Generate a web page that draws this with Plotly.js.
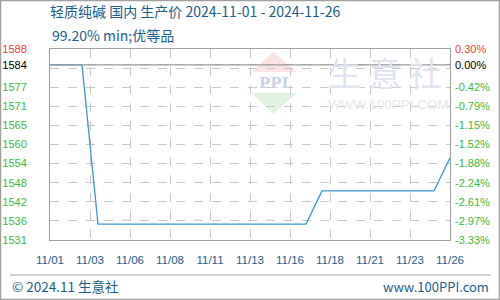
<!DOCTYPE html>
<html>
<head>
<meta charset="utf-8">
<script src="https://cdn.plot.ly/plotly-3.0.1.min.js"></script>
<style>html,body{margin:0;padding:0;background:#fff;}#chart{width:500px;height:300px;}</style>
</head>
<body>
<div id="chart"></div>
<script>
// ---- data ----
const dates = ['2024-11-01','2024-11-02','2024-11-03','2024-11-04','2024-11-05','2024-11-06','2024-11-07',
  '2024-11-08','2024-11-09','2024-11-10','2024-11-11','2024-11-12','2024-11-13','2024-11-14','2024-11-15',
  '2024-11-16','2024-11-17','2024-11-18','2024-11-19','2024-11-20','2024-11-21','2024-11-22','2024-11-23',
  '2024-11-24','2024-11-25','2024-11-26'];
const prices = [1584,1584,1584,1536,1536,1536,1536,1536,1536,1536,1536,1536,1536,1536,1536,1536,1536,
  1546,1546,1546,1546,1546,1546,1546,1546,1556];
const basePrice = 1584;
const yMin = 1531.2, yMax = 1588.8;
const xTickLabels = ['11/01','11/03','11/06','11/08','11/11','11/13','11/16','11/18','11/21','11/23','11/26'];
const leftGridLabels = ['1531','1536','1542','1548','1554','1560','1565','1571','1577','',''];
const rightGridLabels = ['-3.33%','-2.97%','-2.61%','-2.24%','-1.88%','-1.52%','-1.15%','-0.79%','-0.42%','',''];
const leftTopLabel = '1588', leftBaseLabel = '1584';
const rightTopLabel = '0.30%', rightBaseLabel = '0.00%';
const titleText = '轻质纯碱 国内 生产价 2024-11-01 - 2024-11-26';
const subtitleText = '99.20% min;优等品';

// ---- layout helpers ----
const W = 500, H = 300, M = {l:50, r:50, t:49, b:60};
const PW = W - M.l - M.r, PH = H - M.t - M.b;
const px = v => (v - M.l) / PW;
const py = v => (H - M.b - v) / PH;

const RED = '#f03a3a', GREEN = '#3cb93c', BLUE = '#1b5e8c';
const col = (c, t) => t ? '<span style="color:' + c + '">' + t + '</span>' : '';

// grid tick values (11 evenly spaced) plus base line
const nGrid = 10;
const gridVals = [];
for (let i = 0; i <= nGrid; i++) gridVals.push(yMin + (yMax - yMin) * i / nGrid);
const yTickVals = gridVals.slice(0, nGrid).concat([basePrice, yMax]);
const leftText = leftGridLabels.slice(0, nGrid).map(t => col(GREEN, t)).concat([col('#000', leftBaseLabel), col(RED, leftTopLabel)]);
const rightText = rightGridLabels.slice(0, nGrid).map(t => col(GREEN, t)).concat([col('#000', rightBaseLabel), col(RED, rightTopLabel)]);

// x ticks every 2.5 days
const day = 86400000;
const x0 = Date.UTC(2024, 10, 1), x1 = Date.UTC(2024, 10, 26);
const xTickVals = xTickLabels.map((_, k) => x0 + k * 2.5 * day);

const trace = {
  x: dates, y: prices, type: 'scatter', mode: 'lines',
  line: {color: '#3a96d4', width: 1.3}, hoverinfo: 'skip'
};
const trace2 = {x: dates, y: prices, yaxis: 'y2', mode: 'none', type: 'scatter', hoverinfo: 'skip'};

const tickFont = {family: 'Liberation Sans, Arial, sans-serif', size: 11, color: '#000'};
const layout = {
  width: W, height: H, margin: M,
  paper_bgcolor: '#fff', plot_bgcolor: '#fff',
  showlegend: false, hovermode: false,
  title: {text: titleText, x: M.l / W, xanchor: 'left', xref: 'container',
          y: 1 - 7 / H, yanchor: 'top', yref: 'container',
          font: {family: 'Noto Sans CJK SC, sans-serif', size: 14, color: BLUE}},
  xaxis: {type: 'date', range: [x0, x1], tickvals: xTickVals, ticktext: xTickLabels,
          showgrid: true, gridcolor: '#c8c8c8', griddash: 'dash', gridwidth: 1,
          showline: true, linecolor: '#a0a0a0', linewidth: 1, mirror: true,
          zeroline: false, ticks: '', ticklabelstandoff: 9,
          tickfont: Object.assign({}, tickFont, {color: BLUE, size: 11.5})},
  yaxis: {range: [yMin, yMax], tickvals: yTickVals, ticktext: leftText,
          showgrid: false, zeroline: false, showline: true, linecolor: '#a0a0a0',
          linewidth: 1, mirror: true, ticks: '', ticklabelstandoff: 20, tickfont: tickFont},
  yaxis2: {range: [yMin, yMax], tickvals: yTickVals, ticktext: rightText, overlaying: 'y',
          side: 'right', showgrid: true, gridcolor: '#c8c8c8', griddash: 'dash', gridwidth: 1,
          zeroline: false, showline: false, ticks: '', ticklabelstandoff: 4, tickfont: tickFont},
  shapes: [
    // base line at basePrice
    {type: 'line', xref: 'paper', yref: 'y', x0: 0, x1: 1, y0: basePrice, y1: basePrice,
     line: {color: '#999', width: 1.2}},
    // outer frame
    {type: 'rect', xref: 'paper', yref: 'paper', x0: px(0.5), x1: px(499.5), y0: py(0.5), y1: py(299.5),
     line: {color: '#a0a0a0', width: 1.5}},
    // footer separator
    {type: 'line', xref: 'paper', yref: 'paper', x0: px(10), x1: px(491), y0: py(275), y1: py(275),
     line: {color: '#a0a0a0', width: 1}},
    // watermark logo triangles
    {type: 'path', xref: 'paper', yref: 'paper', layer: 'below', line: {width: 0}, fillcolor: '#fbe3e3',
     path: 'M' + px(252) + ',' + py(72) + ' L' + px(273) + ',' + py(52) + ' L' + px(297) + ',' + py(72) + ' Z'},
    {type: 'path', xref: 'paper', yref: 'paper', layer: 'below', line: {width: 0}, fillcolor: '#e0f3e2',
     path: 'M' + px(252) + ',' + py(93) + ' L' + px(297) + ',' + py(93) + ' L' + px(273) + ',' + py(114) + ' Z'}
  ],
  annotations: [
    {text: subtitleText, xref: 'paper', yref: 'paper', x: px(50), y: py(35), xanchor: 'left', yanchor: 'middle',
     showarrow: false, font: {family: 'Noto Sans CJK SC, sans-serif', size: 14, color: BLUE}},
    {text: '© 2024.11 生意社', xref: 'paper', yref: 'paper', x: px(10), y: py(286), xanchor: 'left', yanchor: 'middle',
     showarrow: false, font: {family: 'Noto Sans CJK SC, sans-serif', size: 13.5, color: BLUE}},
    {text: 'www.100PPI.com', xref: 'paper', yref: 'paper', x: px(491), y: py(286), xanchor: 'right', yanchor: 'middle',
     showarrow: false, font: {family: 'Noto Sans CJK SC, sans-serif', size: 13, color: BLUE}},
    // watermark text
    {text: '<b>PPI</b>', xref: 'paper', yref: 'paper', x: px(274), y: py(83), xanchor: 'center', yanchor: 'middle',
     showarrow: false, font: {family: 'DejaVu Serif, serif', size: 15, color: '#c9d2e6'}},
    {text: '生 意 社', xref: 'paper', yref: 'paper', x: px(326), y: py(72), xanchor: 'left', yanchor: 'middle',
     showarrow: false, font: {family: 'Noto Sans CJK SC, sans-serif', size: 33, color: '#dfe4ee'}},
    {text: 'WWW.100PPI.COM', xref: 'paper', yref: 'paper', x: px(326), y: py(104), xanchor: 'left', yanchor: 'middle',
     showarrow: false, font: {family: 'Liberation Sans, Arial, sans-serif', size: 13.5, color: '#e6e6e6'}}
  ]
};
Plotly.newPlot('chart', [trace, trace2], layout, {displayModeBar: false, staticPlot: true});
</script>
</body>
</html>
